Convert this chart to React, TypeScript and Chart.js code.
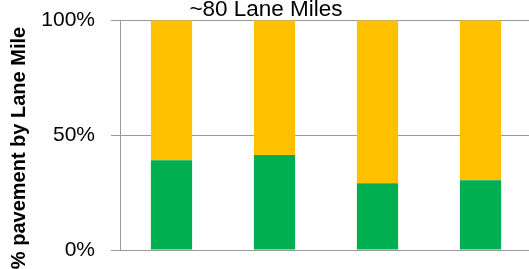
import React, { useEffect, useRef } from "react";
import { Chart, registerables } from "chart.js";

Chart.register(...registerables);

const categories = ["A", "B", "C", "D"];
const greenValues = [39.1, 41.4, 29.0, 30.4];
const yellowValues = [60.9, 58.6, 71.0, 69.6];
const yTicks = [0, 50, 100];
const chartTitle = "~80 Lane Miles";
const yAxisTitle = "% pavement by Lane Mile";

const FONT = "'Liberation Sans', Arial, sans-serif";

const yTitlePlugin = {
  id: "yTitlePlugin",
  afterDraw(chart: any) {
    const ctx = chart.ctx;
    ctx.save();
    ctx.translate(19.5, 148);
    ctx.rotate(-Math.PI / 2);
    ctx.textAlign = "center";
    ctx.textBaseline = "middle";
    ctx.fillStyle = "#000";
    ctx.font = `bold 20px ${FONT}`;
    ctx.fillText(yAxisTitle, 0, 0);
    ctx.restore();
  },
};

export default function App() {
  const ref = useRef<HTMLCanvasElement | null>(null);
  useEffect(() => {
    if (!ref.current) return;
    const chart = new Chart(ref.current, {
      type: "bar",
      data: {
        labels: categories,
        datasets: [
          { label: "Green", data: greenValues, backgroundColor: "#00B050", borderWidth: 0 },
          { label: "Yellow", data: yellowValues, backgroundColor: "#FFC000", borderWidth: 0 },
        ],
      },
      options: {
        responsive: false,
        animation: false,
        layout: { padding: { left: 0, right: 0, top: 0, bottom: 19 } },
        datasets: { bar: { categoryPercentage: 1, barPercentage: 0.4 } },
        plugins: {
          legend: { display: false },
          tooltip: { enabled: false },
          title: {
            display: true,
            text: chartTitle,
            color: "#000",
            font: { family: FONT, size: 22.5, weight: "normal", lineHeight: 0.9 },
            padding: { top: 0, bottom: 0 },
          },
        },
        scales: {
          x: { stacked: true, display: false },
          y: {
            stacked: true,
            min: 0,
            max: 100,
            afterFit: (s: any) => {
              s.width = 120;
              s.paddingTop = 0;
              s.paddingBottom = 0;
            },
            afterBuildTicks: (s: any) => {
              s.ticks = yTicks.map((v) => ({ value: v }));
            },
            ticks: {
              callback: (v: any) => v + "%",
              color: "#000",
              font: { family: FONT, size: 21 },
              padding: 16,
            },
            grid: { color: "#999", lineWidth: 1, tickLength: 9, drawTicks: true },
            border: { color: "#999", width: 1 },
          },
        },
      },
      plugins: [yTitlePlugin],
    });
    return () => chart.destroy();
  }, []);
  return (
    <div style={{ position: "fixed", left: 0, top: 0, width: 529, height: 269, overflow: "hidden", background: "#fff" }}>
      <canvas ref={ref} width={532} height={269} style={{ display: "block" }} />
    </div>
  );
}
